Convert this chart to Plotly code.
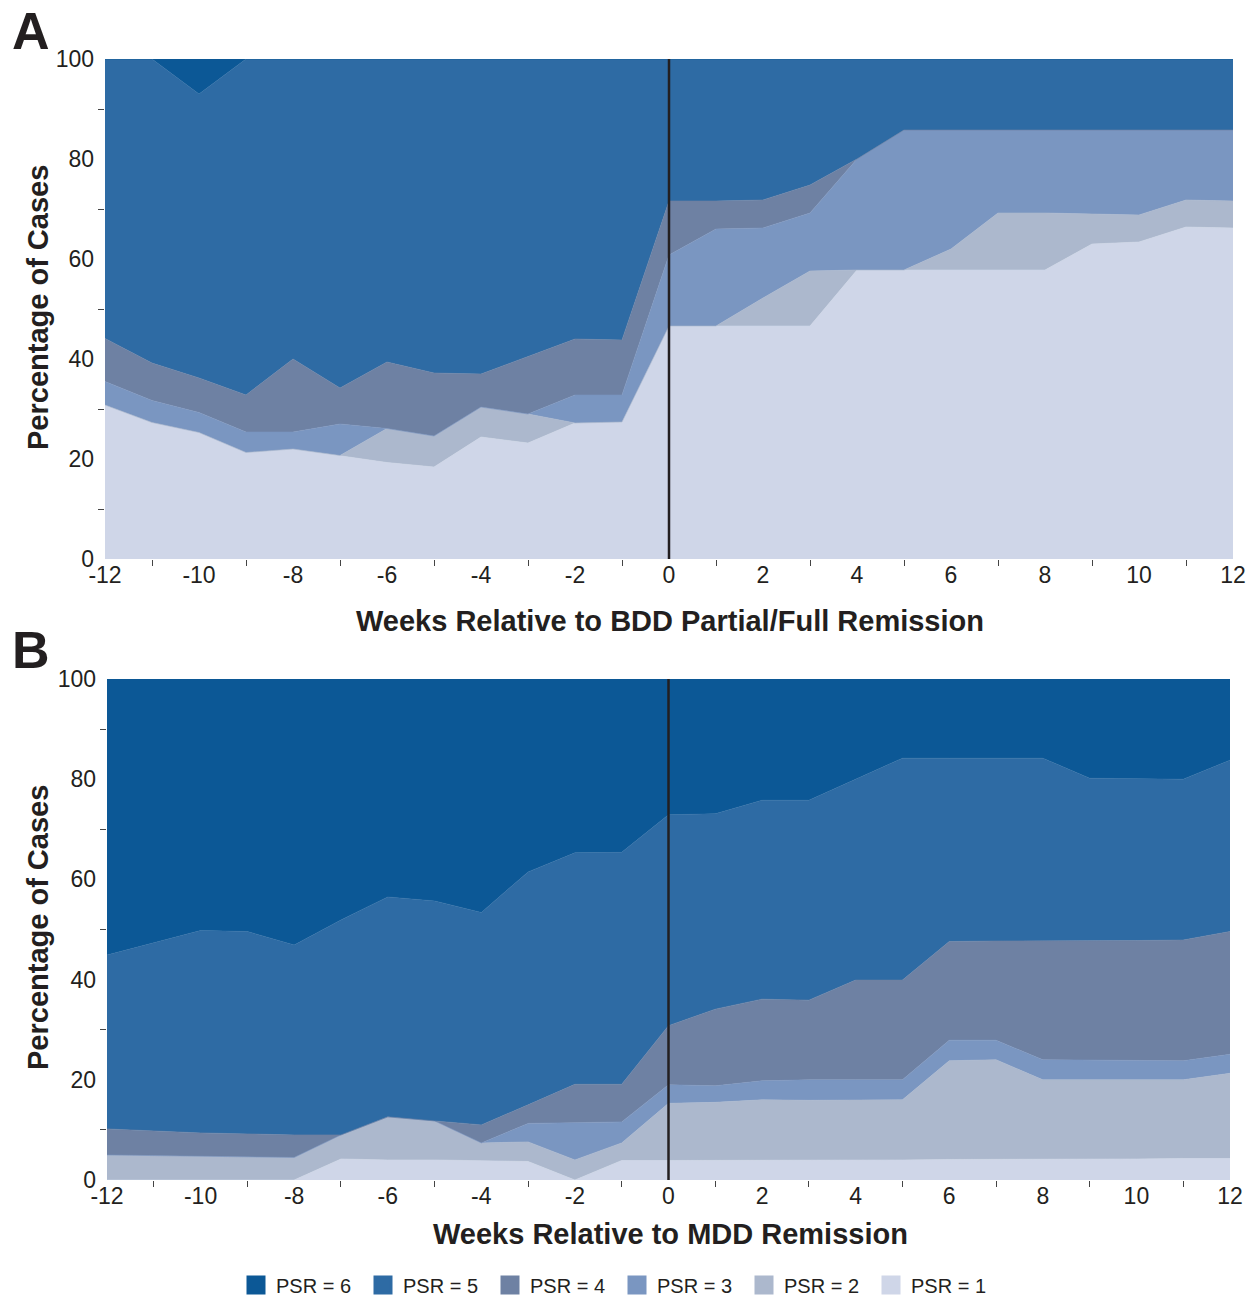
import plotly.graph_objects as go

weeks = list(range(-12, 13))
even_weeks = list(range(-12, 13, 2))
odd_weeks = list(range(-11, 12, 2))
y_labels = [0, 20, 40, 60, 80, 100]
y_minor = [10, 30, 50, 70, 90]
psr_names = ["PSR = 1", "PSR = 2", "PSR = 3", "PSR = 4", "PSR = 5", "PSR = 6"]

# Panel A: weeks relative to BDD partial/full remission (% of cases at each PSR)
a_psr1 = [30.8, 27.3, 25.3, 21.3, 22.0, 20.7, 19.3, 18.4, 24.4, 23.2, 27.2, 27.4,
          46.6, 46.6, 46.6, 46.6, 57.8, 57.8, 57.8, 57.8, 57.8, 63.0, 63.4, 66.4, 66.2]
a_psr2 = [0, 0, 0, 0, 0, 0, 6.8, 6.2, 6.0, 5.8, 0, 0,
          0, 0, 5.6, 11.0, 0, 0, 4.2, 11.4, 11.4, 6.0, 5.4, 5.4, 5.4]
a_psr3 = [4.7, 4.4, 4.0, 4.1, 3.4, 6.3, 0, 0, 0, 0, 5.6, 5.4,
          14.2, 19.4, 14.0, 11.6, 22.2, 28.0, 23.8, 16.6, 16.6, 16.8, 17.0, 14.0, 14.2]
a_psr4 = [8.6, 7.5, 6.9, 7.4, 14.6, 7.2, 13.3, 12.6, 6.6, 11.5, 11.2, 11.0,
          10.8, 5.6, 5.6, 5.6, 0, 0, 0, 0, 0, 0, 0, 0, 0]
a_psr5 = [55.9, 60.8, 56.8, 67.2, 60.0, 65.8, 60.6, 62.8, 63.0, 59.5, 56.0, 56.2,
          28.4, 28.4, 28.2, 25.2, 20.0, 14.2, 14.2, 14.2, 14.2, 14.2, 14.2, 14.2, 14.2]
a_psr6 = [0, 0, 7.0, 0, 0, 0, 0, 0, 0, 0, 0, 0,
          0, 0, 0, 0, 0, 0, 0, 0, 0, 0, 0, 0, 0]

# Panel B: weeks relative to MDD remission
b_psr1 = [0, 0, 0, 0, 0, 4.2, 4.0, 4.0, 3.9, 3.7, 0, 3.9,
          3.9, 3.9, 4.0, 4.0, 4.0, 4.0, 4.1, 4.1, 4.1, 4.2, 4.2, 4.3, 4.3]
b_psr2 = [5.0, 4.9, 4.7, 4.6, 4.5, 4.8, 8.6, 7.8, 3.5, 3.9, 4.0, 3.5,
          11.4, 11.6, 12.0, 11.9, 12.0, 12.0, 19.7, 19.9, 15.9, 15.8, 15.8, 15.7, 17.0]
b_psr3 = [0, 0, 0, 0, 0, 0, 0, 0, 0, 3.7, 7.5, 4.2,
          3.7, 3.3, 3.8, 4.1, 4.0, 4.0, 4.1, 3.9, 4.0, 3.9, 3.8, 3.8, 3.8]
b_psr4 = [5.2, 4.9, 4.7, 4.6, 4.5, 0, 0, 0, 3.6, 3.7, 7.6, 7.5,
          11.8, 15.3, 16.3, 15.9, 19.9, 19.9, 19.7, 19.8, 23.7, 23.9, 24.0, 24.1, 24.5]
b_psr5 = [34.7, 37.5, 40.4, 40.4, 37.9, 42.9, 43.9, 43.9, 42.4, 46.5, 46.2, 46.3,
          42.1, 39.0, 39.7, 39.9, 40.1, 44.3, 36.6, 36.5, 36.5, 32.4, 32.3, 32.1, 34.2]
b_psr6 = [55.1, 52.7, 50.2, 50.4, 53.1, 48.1, 43.5, 44.3, 46.6, 38.5, 34.7, 34.6,
          27.1, 26.9, 24.2, 24.2, 20.0, 15.8, 15.8, 15.8, 15.8, 19.8, 19.9, 20.0, 16.2]

colors = ["#cfd6e8", "#acb8cd", "#7a96c1", "#6e81a3", "#2e6ba4", "#0c5896"]
W, H = 1252, 1296
FONT = "Liberation Sans, Arial, sans-serif"
TXT = "#231f20"

fig = go.Figure()
panel_a = [a_psr1, a_psr2, a_psr3, a_psr4, a_psr5, a_psr6]
panel_b = [b_psr1, b_psr2, b_psr3, b_psr4, b_psr5, b_psr6]
for vals, col, nm in zip(panel_a, colors, psr_names):
    fig.add_trace(go.Scatter(x=weeks, y=vals, stackgroup="a", mode="lines",
                             line=dict(width=0.6, color=col), fillcolor=col,
                             name=nm, showlegend=False, xaxis="x", yaxis="y",
                             hoverinfo="skip"))
for vals, col, nm in zip(panel_b, colors, psr_names):
    fig.add_trace(go.Scatter(x=weeks, y=vals, stackgroup="b", mode="lines",
                             line=dict(width=0.6, color=col), fillcolor=col,
                             name=nm, showlegend=False, xaxis="x2", yaxis="y2",
                             hoverinfo="skip"))
# legend entries (PSR = 6 first)
for col, nm in reversed(list(zip(colors, psr_names))):
    fig.add_trace(go.Scatter(x=[None], y=[None], mode="markers",
                             marker=dict(symbol="square", size=16, color=col,
                                         line=dict(width=3, color=col)),
                             name=nm, showlegend=True, xaxis="x2", yaxis="y2"))


def xaxis(domain, anchor):
    return dict(domain=domain, anchor=anchor, range=[-12, 12],
                tickmode="array", tickvals=even_weeks,
                ticktext=[str(v) for v in even_weeks], ticks="",
                minor=dict(tickvals=odd_weeks, ticks="outside", ticklen=6,
                           tickwidth=1, tickcolor="#444"),
                tickfont=dict(size=23, color=TXT, family=FONT),
                showgrid=False, zeroline=False, showline=False, fixedrange=True,
                automargin=False)


def yaxis(domain, anchor):
    return dict(domain=domain, anchor=anchor, range=[0, 100],
                tickmode="array", tickvals=y_labels,
                ticktext=[str(v) for v in y_labels], ticks="",
                ticklabelstandoff=10,
                minor=dict(tickvals=y_minor, ticks="outside", ticklen=6,
                           tickwidth=1, tickcolor="#444"),
                tickfont=dict(size=23, color=TXT, family=FONT),
                showgrid=False, zeroline=False, showline=False, fixedrange=True,
                automargin=False)


def note(text, x, y, size, angle=0):
    return dict(text=text, x=x / W, y=1 - y / H, xref="paper", yref="paper",
                xanchor="center", yanchor="middle", textangle=angle,
                showarrow=False, font=dict(size=size, color=TXT, family=FONT))


fig.update_layout(
    width=W, height=H,
    margin=dict(l=0, r=0, t=0, b=0, pad=0, autoexpand=False),
    paper_bgcolor="white", plot_bgcolor="white",
    font=dict(family=FONT, color=TXT),
    xaxis=xaxis([105 / W, 1233 / W], "y"),
    yaxis=yaxis([1 - 559 / H, 1 - 59 / H], "x"),
    xaxis2=xaxis([107 / W, 1230 / W], "y2"),
    yaxis2=yaxis([1 - 1180 / H, 1 - 679 / H], "x2"),
    legend=dict(orientation="h", traceorder="normal", x=236 / W, xanchor="left",
                y=1 - 1285 / H, yanchor="middle",
                font=dict(size=20, color=TXT, family=FONT),
                entrywidth=82, entrywidthmode="pixels", itemwidth=30,
                bgcolor="rgba(0,0,0,0)"),
    shapes=[
        dict(type="line", xref="x", yref="y domain", x0=0, x1=0, y0=0, y1=1,
             line=dict(color=TXT, width=2.5)),
        dict(type="line", xref="x2", yref="y2 domain", x0=0, x1=0, y0=0, y1=1,
             line=dict(color=TXT, width=2.5)),
    ],
    annotations=[
        note("<b>A</b>", 31, 31, 52),
        note("<b>B</b>", 31, 650, 52),
        note("<b>Percentage of Cases</b>", 38, 308, 29, -90),
        note("<b>Percentage of Cases</b>", 38, 928, 29, -90),
        note("<b>Weeks Relative to BDD Partial/Full Remission</b>", 670, 621, 29),
        note("<b>Weeks Relative to MDD Remission</b>", 670, 1234, 29),
    ],
)

fig.write_html("out.html", post_script="document.body.style.margin='0px';",
               config={"displayModeBar": False})
